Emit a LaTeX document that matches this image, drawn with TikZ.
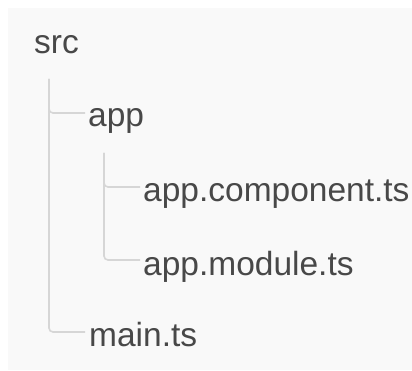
\documentclass[tikz,border=0pt]{standalone}
\usepackage{fontspec}
\setmainfont{Liberation Sans}

\definecolor{panelgray}{HTML}{F9F9F9}
\definecolor{textgray}{HTML}{484848}
\definecolor{linegray}{HTML}{D6D6D6}

\tikzset{
  entry/.style={anchor=base west, inner sep=0pt, text=textgray, font=\fontsize{33.5}{40}\selectfont},
  branch/.style={draw=linegray, line width=1.6pt, rounded corners=4pt}
}

\begin{document}
\begin{tikzpicture}[x=1pt, y=1pt]

\useasboundingbox (0,0) rectangle (412,370);
\fill[panelgray] (8,0) rectangle (412,362);

\coordinate (src-label) at (34,316);
\coordinate (app-label) at (88,243);
\coordinate (app-component-label) at (143,169);
\coordinate (app-module-label) at (143,95);
\coordinate (main-label) at (89,24);

\node [entry] (src) at (src-label) {src};
\node [entry] (app) at (app-label) {app};
\node [entry] (app-component) at (app-component-label) {app.component.ts};
\node [entry] (app-module) at (app-module-label) {app.module.ts};
\node [entry] (main) at (main-label) {main.ts};

\draw [branch] ([xshift=15pt,yshift=-25pt]src.base west) |- ([xshift=-3pt,yshift=14pt]app.base west);
\draw [branch] ([xshift=15pt,yshift=-25pt]src.base west) |- ([xshift=-4pt,yshift=14pt]main.base west);
\draw [branch] ([xshift=16pt,yshift=-26pt]app.base west) |- ([xshift=-3pt,yshift=14pt]app-component.base west);
\draw [branch] ([xshift=16pt,yshift=-26pt]app.base west) |- ([xshift=-3pt,yshift=15pt]app-module.base west);

\end{tikzpicture}
\end{document}
